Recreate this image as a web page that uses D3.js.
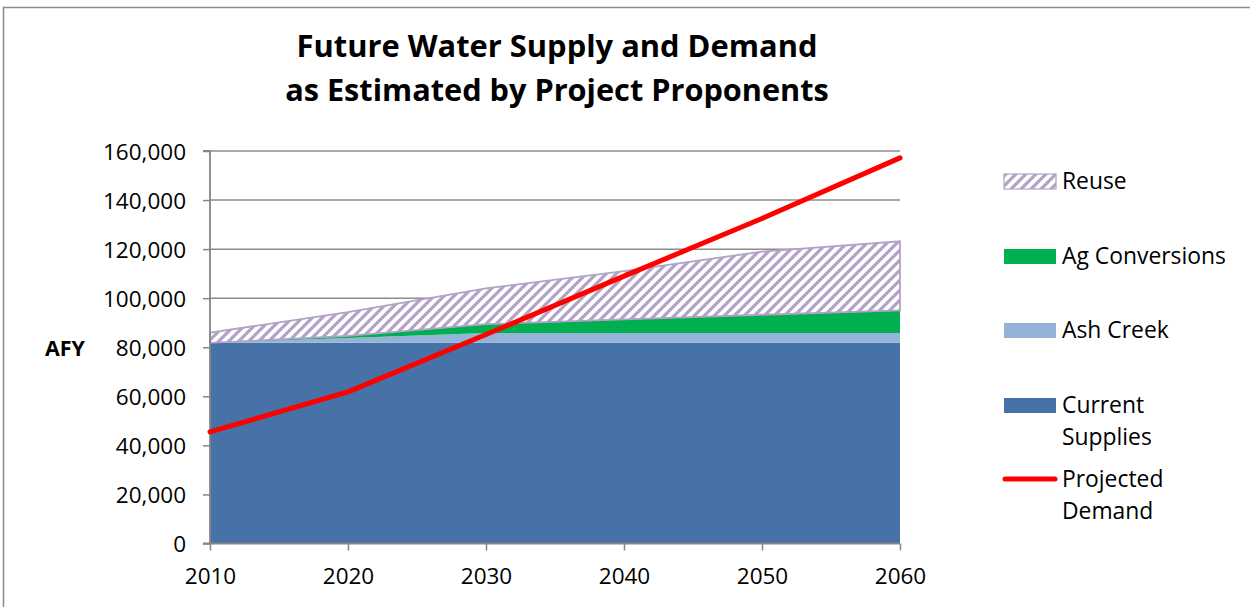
<!DOCTYPE html>
<html><head><meta charset="utf-8">
<script src="https://cdn.jsdelivr.net/npm/d3@7"></script>
<style>
html,body{margin:0;padding:0;background:#fff;}
svg{display:block;font-family:"Open Sans","Noto Sans",sans-serif;}
</style></head>
<body>
<svg id="chart" width="1250" height="607"></svg>
<script>
// ---- data ----
const years = [2010, 2020, 2030, 2040, 2050, 2060];
const currentSupplies = [81800, 81800, 81800, 81800, 81800, 81800];
const ashCreek = [0, 2000, 4000, 4000, 4000, 4000];
const agConversions = [0, 800, 3600, 5600, 7450, 9250];
const reuse = [4200, 9700, 14600, 19600, 25750, 28150];
const projectedDemand = [45500, 61800, 85200, 109000, 132500, 157200];
const yTicks = [0, 20000, 40000, 60000, 80000, 100000, 120000, 140000, 160000];
const seriesNames = ["Current Supplies", "Ash Creek", "Ag Conversions", "Reuse"];
const titleLines = ["Future Water Supply and Demand", "as Estimated by Project Proponents"];

const rows = years.map((y, i) => ({
  year: y,
  "Current Supplies": currentSupplies[i],
  "Ash Creek": ashCreek[i],
  "Ag Conversions": agConversions[i],
  "Reuse": reuse[i]
}));

const svg = d3.select("#chart");
const L = 210, R = 900, T = 151, B = 543.5;

// outer border
svg.append("rect").attr("x", 3.5).attr("y", 7.5).attr("width", 1260).attr("height", 620)
  .attr("fill", "#fff").attr("stroke", "#8a8a8a").attr("stroke-width", 1.5);

// pattern
const defs = svg.append("defs");
const P = 10;
const pat = defs.append("pattern").attr("id", "hatch").attr("patternUnits", "userSpaceOnUse")
  .attr("width", P).attr("height", P);
pat.append("rect").attr("width", P).attr("height", P).attr("fill", "#fff");
pat.append("path").attr("d", `M-2,2 L2,-2 M0,${P} L${P},0 M${P-2},${P+2} L${P+2},${P-2}`)
  .attr("stroke", "#B3A2C7").attr("stroke-width", 3.2);

const x = d3.scaleLinear().domain([2010, 2060]).range([L, R]);
const y = d3.scaleLinear().domain([0, 160000]).range([B, T]);

// gridlines
svg.append("g").selectAll("line").data(yTicks.filter(d => d > 0)).join("line")
  .attr("x1", L).attr("x2", R).attr("y1", d => y(d)).attr("y2", d => y(d))
  .attr("stroke", "#8c8c8c").attr("stroke-width", 1.5);

// stacked areas
const stack = d3.stack().keys(seriesNames);
const layers = stack(rows);
const colors = {"Current Supplies": "#4672A8", "Ash Creek": "#95B3D7", "Ag Conversions": "#00B050", "Reuse": "url(#hatch)"};
const area = d3.area().x(d => x(d.data.year)).y0(d => y(d[0])).y1(d => y(d[1]));
svg.append("g").selectAll("path").data(layers).join("path")
  .attr("d", area)
  .attr("fill", d => colors[d.key])
  .attr("stroke", d => d.key === "Reuse" ? "#B3A2C7" : "none")
  .attr("stroke-width", 1.8);

// axes
const yAxis = d3.axisLeft(y).tickValues(yTicks).tickSize(7).tickPadding(17)
  .tickFormat(d3.format(","));
const gy = svg.append("g").attr("transform", `translate(${L},0)`).call(yAxis);
const xAxis = d3.axisBottom(x).tickValues(years).tickSize(7).tickPadding(18).tickFormat(d3.format("d"));
const gx = svg.append("g").attr("transform", `translate(0,${B})`).call(xAxis);
[gy, gx].forEach(g => {
  g.select(".domain").attr("stroke", "#868686").attr("stroke-width", 1.8);
  g.selectAll(".tick line").attr("stroke", "#868686").attr("stroke-width", 1.5);
  g.selectAll("text").attr("fill", "#000").attr("font-family", '"Open Sans", sans-serif');
});
gy.select(".domain").attr("d", `M-7,${B}H0V${T}H-7`);
gy.selectAll("text").attr("font-size", 22.5).attr("dy", "0.36em");
gx.select(".domain").attr("d", `M${L},0H${R}`);
gx.selectAll("text").attr("font-size", 22.5);

// demand line
const line = d3.line().x((d, i) => x(years[i])).y(d => y(d));
svg.append("path").datum(projectedDemand).attr("d", line)
  .attr("fill", "none").attr("stroke", "#FF0000").attr("stroke-width", 5)
  .attr("stroke-linecap", "round").attr("stroke-linejoin", "round");

// helper to fit width
function fit(sel, target) {
  const w = sel.node().getComputedTextLength();
  const fs = parseFloat(sel.attr("font-size"));
  sel.attr("font-size", (fs * target / w).toFixed(2));
}

// title
const t1 = svg.append("text").attr("x", 557).attr("y", 57).attr("text-anchor", "middle")
  .attr("font-weight", "bold").attr("font-size", 28).text(titleLines[0]);
fit(t1, 521);
const t2 = svg.append("text").attr("x", 557).attr("y", 101).attr("text-anchor", "middle")
  .attr("font-weight", "bold").attr("font-size", 28).text(titleLines[1]);
fit(t2, 544);

// AFY
const afy = svg.append("text").attr("x", 45).attr("y", 356).attr("font-weight", "bold")
  .attr("font-size", 20).text("AFY");
fit(afy, 40);

// legend
const legendItems = [
  {name: "Reuse", lines: ["Reuse"], fill: "url(#hatch)", stroke: "#B3A2C7", cy: 181},
  {name: "Ag Conversions", lines: ["Ag Conversions"], fill: "#00B050", cy: 256},
  {name: "Ash Creek", lines: ["Ash Creek"], fill: "#95B3D7", cy: 330},
  {name: "Current Supplies", lines: ["Current", "Supplies"], fill: "#4672A8", cy: 405},
  {name: "Projected Demand", lines: ["Projected", "Demand"], line: "#FF0000", cy: 479}
];
const lg = svg.append("g");
const probe = lg.append("text").attr("font-size", 21).text("Ag Conversions");
const legendFs = 21 * 164 / probe.node().getComputedTextLength();
probe.remove();
legendItems.forEach(it => {
  if (it.line) {
    lg.append("line").attr("x1", 1005).attr("x2", 1055).attr("y1", it.cy).attr("y2", it.cy)
      .attr("stroke", it.line).attr("stroke-width", 5).attr("stroke-linecap", "round");
  } else {
    lg.append("rect").attr("x", 1004).attr("y", it.cy - 7).attr("width", 52).attr("height", 15)
      .attr("fill", it.fill).attr("stroke", it.stroke || "none").attr("stroke-width", 1.2);
  }
  it.lines.forEach((s, k) => {
    lg.append("text").attr("x", 1062).attr("y", it.cy + 8 + k * 32)
      .attr("font-size", legendFs.toFixed(2)).attr("fill", "#000").text(s);
  });
});
</script>
</body></html>
